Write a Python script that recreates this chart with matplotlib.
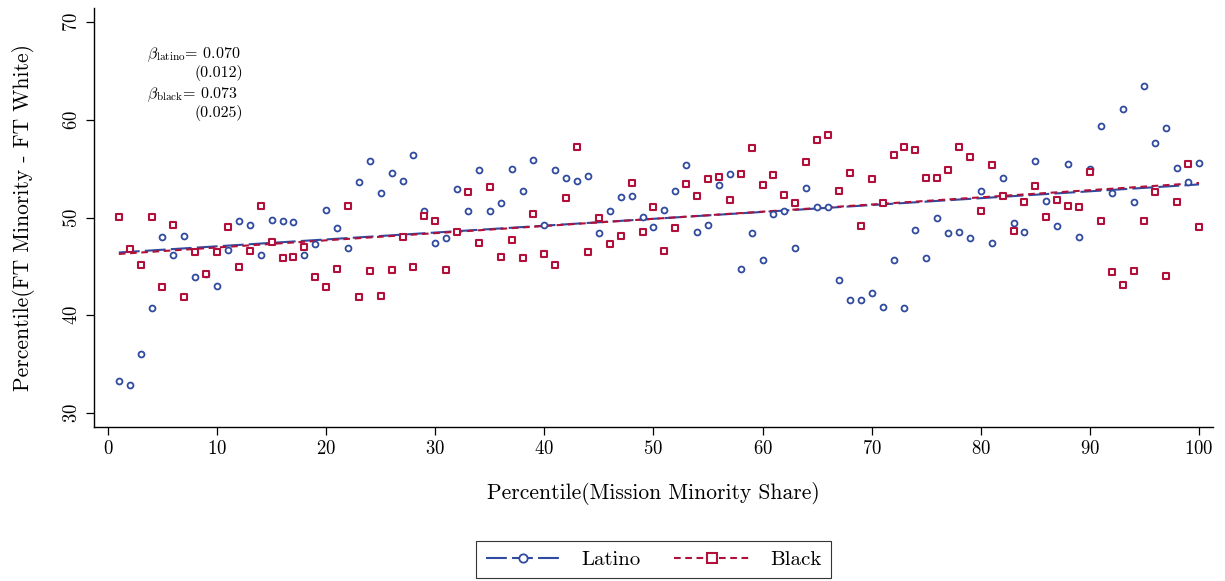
import numpy as np
import matplotlib
matplotlib.use('Agg')
import matplotlib.pyplot as plt

plt.rcParams['font.family'] = ['cmr10', 'DejaVu Serif']
plt.rcParams['mathtext.fontset'] = 'cm'
plt.rcParams['axes.formatter.use_mathtext'] = True

# percentile of mission minority share
pct = np.arange(1, 101)

latino = [33.3, 32.9, 36.0, 40.7, 48.0, 46.2, 48.1, 43.9, 44.2, 43.0,
          46.7, 49.7, 49.2, 46.2, 49.8, 49.6, 49.5, 46.2, 47.3, 50.8,
          48.9, 46.9, 53.6, 55.8, 52.5, 54.6, 53.7, 56.4, 50.7, 47.4,
          47.9, 52.9, 50.7, 54.9, 50.7, 51.5, 55.0, 52.7, 55.9, 49.2,
          54.9, 54.0, 53.7, 54.3, 48.4, 50.7, 52.1, 52.2, 50.1, 49.0,
          50.8, 52.7, 55.4, 48.5, 49.2, 53.3, 54.5, 44.7, 48.4, 45.7,
          50.4, 50.7, 46.9, 53.0, 51.1, 51.1, 43.6, 41.6, 41.6, 42.3,
          40.9, 45.7, 40.7, 48.7, 45.9, 50.0, 48.4, 48.5, 47.9, 52.7,
          47.4, 54.0, 49.4, 48.5, 55.8, 51.7, 49.1, 55.5, 48.0, 55.0,
          59.4, 52.5, 61.1, 51.6, 63.5, 57.6, 59.2, 55.1, 53.6, 55.6]

black = [50.1, 46.8, 45.1, 50.1, 42.9, 49.2, 41.9, 46.5, 44.2, 46.5,
         49.0, 44.9, 46.6, 51.2, 47.5, 45.9, 46.0, 47.0, 43.9, 42.9,
         44.7, 51.2, 41.9, 44.5, 42.0, 44.6, 48.0, 44.9, 50.2, 49.6,
         44.6, 48.5, 52.6, 47.4, 53.1, 46.0, 47.7, 45.9, 50.4, 46.3,
         45.1, 52.0, 57.2, 46.5, 50.0, 47.3, 48.1, 53.5, 48.5, 51.1,
         46.6, 48.9, 53.4, 52.2, 53.9, 54.2, 51.8, 54.5, 57.1, 53.3,
         54.4, 52.3, 51.5, 55.7, 57.9, 58.4, 52.7, 54.6, 49.1, 53.9,
         51.5, 56.4, 57.2, 56.9, 54.1, 54.0, 54.9, 57.2, 56.2, 50.7,
         55.4, 52.2, 48.6, 51.6, 53.2, 50.1, 51.8, 51.2, 51.1, 54.7,
         49.6, 44.4, 43.1, 44.5, 49.7, 52.6, 44.0, 51.6, 55.5, 49.0]

blue = '#2f4a9e'
red = '#b0103a'

fig = plt.figure(figsize=(12.25, 5.81), dpi=100)
ax = fig.add_axes([0.0767, 0.265, 0.9135, 0.721])

# fitted lines
fl = np.polyfit(pct, latino, 1)
fb = np.polyfit(pct, black, 1)
xx = np.array([pct[0], pct[-1]])
ax.plot(xx, np.polyval(fl, xx), color=blue, lw=1.5, dashes=(10, 2.5), zorder=3)
ax.plot(xx, np.polyval(fb, xx), color=red, lw=1.5, dashes=(3.2, 2.2), zorder=3)

ax.scatter(pct, latino, s=18, facecolors='white', edgecolors=blue, linewidths=1.3,
           marker='o', zorder=4)
ax.scatter(pct, black, s=22, facecolors='white', edgecolors=red, linewidths=1.5,
           marker='s', zorder=4)

# legend proxies
hl, = ax.plot([], [], color=blue, lw=1.5, dashes=(10, 2.5), marker='o', ms=6,
              mfc='white', mec=blue, mew=1.3)
hb, = ax.plot([], [], color=red, lw=1.5, dashes=(3.2, 2.2), marker='s', ms=6.5,
              mfc='white', mec=red, mew=1.5)
leg = ax.legend([hl, hb], ['Latino', 'Black'], loc='upper center',
                bbox_to_anchor=(0.5, -0.272), ncol=2, frameon=True, fancybox=False,
                edgecolor='black', fontsize=15, handlelength=3.6, numpoints=1,
                columnspacing=1.6, handletextpad=1.0, borderpad=0.45,
                borderaxespad=0)
leg.get_frame().set_linewidth(0.8)

ax.set_xlim(-1.28, 101.28)
ax.set_ylim(28.57, 71.43)
ax.set_xticks(np.arange(0, 101, 10))
ax.set_yticks([30, 40, 50, 60, 70])
for lab in ax.get_yticklabels():
    lab.set_rotation(90)
    lab.set_va('center')
ax.tick_params(axis='both', direction='out', length=6, width=0.9, labelsize=13.5,
               colors='black')
ax.spines['top'].set_visible(False)
ax.spines['right'].set_visible(False)
ax.spines['left'].set_linewidth(1.0)
ax.spines['bottom'].set_linewidth(1.0)

ax.set_xlabel('Percentile(Mission Minority Share)', fontsize=15.5, labelpad=17)
ax.set_ylabel('Percentile(FT Minority - FT White)', fontsize=15.5, labelpad=20)

ax.text(3.6, 66.7, r'$\beta_{\rm latino}$= 0.070', fontsize=11.5, va='center')
ax.text(7.9, 64.8, '(0.012)', fontsize=11.5, va='center')
ax.text(3.6, 62.6, r'$\beta_{\rm black}$= 0.073', fontsize=11.5, va='center')
ax.text(7.9, 60.7, '(0.025)', fontsize=11.5, va='center')

fig.savefig('out.png', dpi=100)
